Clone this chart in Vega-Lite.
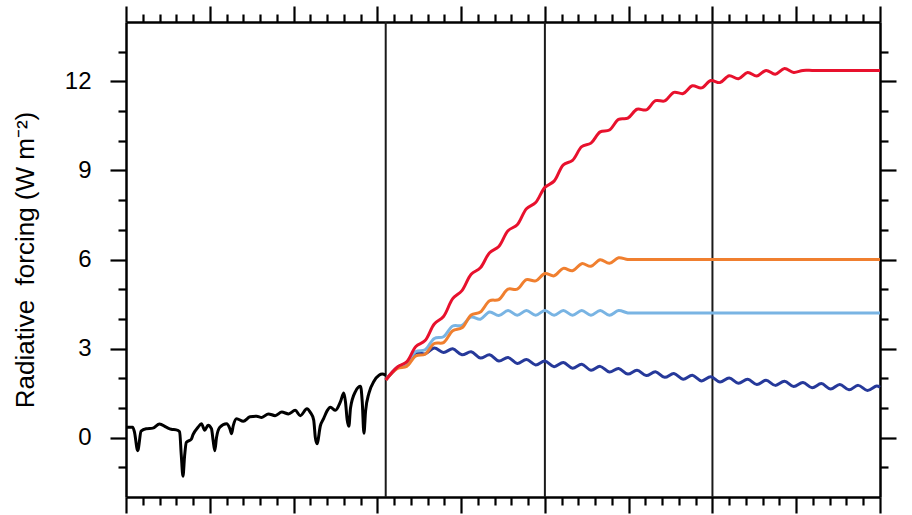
{
  "$schema": "https://vega.github.io/schema/vega-lite/v6.json",
  "width": 754,
  "height": 475,
  "autosize": "none",
  "padding": {"left": 126, "top": 22, "right": 32, "bottom": 18},
  "background": "white",
  "config": {
    "view": {"stroke": null},
    "axis": {"grid": false, "domainColor": "black", "domainWidth": 2.5, "tickColor": "black", "tickWidth": 2.2, "labelFont": "Liberation Sans", "titleFont": "Liberation Sans", "labelColor": "black", "titleColor": "black", "labelOverlap": false, "labelFlush": false}
  },
  "datasets": {
    "vl": [{"t": 2005}, {"t": 2100}, {"t": 2200}],
    "hist": [
      {"t": 1850, "v": 0.35}, {"t": 1854, "v": 0.35}, {"t": 1855, "v": 0.2}, {"t": 1857, "v": -0.44}, {"t": 1859, "v": 0.22},
      {"t": 1862, "v": 0.3}, {"t": 1866, "v": 0.32}, {"t": 1870, "v": 0.46}, {"t": 1874, "v": 0.35}, {"t": 1877, "v": 0.28},
      {"t": 1880, "v": 0.26}, {"t": 1882, "v": 0.2}, {"t": 1883, "v": -0.6}, {"t": 1884, "v": -1.3}, {"t": 1885, "v": -0.6},
      {"t": 1886, "v": -0.16}, {"t": 1889, "v": -0.05}, {"t": 1890, "v": 0.1}, {"t": 1893, "v": 0.35}, {"t": 1895, "v": 0.47},
      {"t": 1897, "v": 0.25}, {"t": 1899, "v": 0.42}, {"t": 1901, "v": 0.3}, {"t": 1902, "v": -0.1}, {"t": 1903, "v": -0.44},
      {"t": 1904, "v": 0.0}, {"t": 1906, "v": 0.35}, {"t": 1910, "v": 0.47}, {"t": 1912, "v": 0.3}, {"t": 1913, "v": 0.13},
      {"t": 1914, "v": 0.4}, {"t": 1916, "v": 0.64}, {"t": 1920, "v": 0.55}, {"t": 1924, "v": 0.7}, {"t": 1928, "v": 0.72},
      {"t": 1931, "v": 0.68}, {"t": 1935, "v": 0.8}, {"t": 1939, "v": 0.74}, {"t": 1943, "v": 0.86}, {"t": 1947, "v": 0.8},
      {"t": 1951, "v": 0.92}, {"t": 1954, "v": 0.74}, {"t": 1958, "v": 0.97}, {"t": 1960, "v": 0.85}, {"t": 1962, "v": 0.6},
      {"t": 1963, "v": 0.0}, {"t": 1964, "v": -0.21}, {"t": 1966, "v": 0.4}, {"t": 1968, "v": 0.65}, {"t": 1970, "v": 0.9},
      {"t": 1972, "v": 1.02}, {"t": 1975, "v": 0.92}, {"t": 1978, "v": 1.21}, {"t": 1980, "v": 1.5}, {"t": 1981, "v": 1.2},
      {"t": 1982, "v": 0.6}, {"t": 1983, "v": 0.38}, {"t": 1984, "v": 1.0}, {"t": 1987, "v": 1.56}, {"t": 1990, "v": 1.73},
      {"t": 1991, "v": 1.2}, {"t": 1992, "v": 0.15}, {"t": 1993, "v": 0.9}, {"t": 1995, "v": 1.5}, {"t": 1998, "v": 1.9},
      {"t": 2001, "v": 2.1}, {"t": 2003, "v": 2.14}, {"t": 2005, "v": 2.1}
    ],
    "rcp": [
      {"t": 2005, "r26": 1.94, "r45": 1.94, "r60": 1.94, "r85": 1.94},
      {"t": 2012, "r26": 2.36, "r45": 2.37, "r60": 2.33, "r85": 2.38},
      {"t": 2017.5, "r26": 2.52, "r45": 2.52, "r60": 2.40, "r85": 2.55},
      {"t": 2023, "r26": 2.86, "r45": 2.90, "r60": 2.75, "r85": 3.07},
      {"t": 2028.5, "r26": 2.82, "r45": 2.96, "r60": 2.81, "r85": 3.27},
      {"t": 2034, "r26": 3.02, "r45": 3.34, "r60": 3.17, "r85": 3.83},
      {"t": 2039.5, "r26": 2.87, "r45": 3.40, "r60": 3.20, "r85": 4.08},
      {"t": 2045, "r26": 2.99, "r45": 3.76, "r60": 3.60, "r85": 4.68},
      {"t": 2050.5, "r26": 2.79, "r45": 3.78, "r60": 3.70, "r85": 4.95},
      {"t": 2056, "r26": 2.89, "r45": 4.06, "r60": 4.13, "r85": 5.50},
      {"t": 2061.5, "r26": 2.68, "r45": 3.99, "r60": 4.23, "r85": 5.72},
      {"t": 2067, "r26": 2.79, "r45": 4.23, "r60": 4.61, "r85": 6.23},
      {"t": 2072.5, "r26": 2.58, "r45": 4.11, "r60": 4.65, "r85": 6.44},
      {"t": 2078, "r26": 2.70, "r45": 4.28, "r60": 5.00, "r85": 6.97},
      {"t": 2083.5, "r26": 2.50, "r45": 4.12, "r60": 5.00, "r85": 7.17},
      {"t": 2089, "r26": 2.63, "r45": 4.28, "r60": 5.32, "r85": 7.71},
      {"t": 2094.5, "r26": 2.45, "r45": 4.12, "r60": 5.28, "r85": 7.92},
      {"t": 2100, "r26": 2.58, "r45": 4.28, "r60": 5.53, "r85": 8.43},
      {"t": 2105.5, "r26": 2.39, "r45": 4.12, "r60": 5.45, "r85": 8.64},
      {"t": 2111, "r26": 2.53, "r45": 4.28, "r60": 5.70, "r85": 9.19},
      {"t": 2116.5, "r26": 2.34, "r45": 4.12, "r60": 5.62, "r85": 9.34},
      {"t": 2122, "r26": 2.47, "r45": 4.28, "r60": 5.86, "r85": 9.80},
      {"t": 2127.5, "r26": 2.27, "r45": 4.12, "r60": 5.77, "r85": 9.92},
      {"t": 2133, "r26": 2.40, "r45": 4.28, "r60": 5.99, "r85": 10.30},
      {"t": 2138.5, "r26": 2.21, "r45": 4.12, "r60": 5.87, "r85": 10.36},
      {"t": 2144, "r26": 2.33, "r45": 4.28, "r60": 6.06, "r85": 10.72},
      {"t": 2149.5, "r26": 2.14, "r45": 4.20, "r60": 6.00, "r85": 10.76},
      {"t": 2155, "r26": 2.27, "r45": 4.20, "r60": 6.00, "r85": 11.06},
      {"t": 2160.5, "r26": 2.09, "r45": 4.20, "r60": 6.00, "r85": 11.04},
      {"t": 2166, "r26": 2.22, "r85": 11.35},
      {"t": 2171.5, "r26": 2.03, "r85": 11.34},
      {"t": 2177, "r26": 2.16, "r85": 11.63},
      {"t": 2182.5, "r26": 1.97, "r85": 11.59},
      {"t": 2188, "r26": 2.10, "r85": 11.85},
      {"t": 2193.5, "r26": 1.91, "r85": 11.78},
      {"t": 2199, "r26": 2.05, "r85": 12.03},
      {"t": 2204.5, "r26": 1.87, "r85": 11.96},
      {"t": 2210, "r26": 2.01, "r85": 12.19},
      {"t": 2215.5, "r26": 1.83, "r85": 12.09},
      {"t": 2221, "r26": 1.97, "r85": 12.30},
      {"t": 2226.5, "r26": 1.79, "r85": 12.18},
      {"t": 2232, "r26": 1.93, "r85": 12.37},
      {"t": 2237.5, "r26": 1.76, "r85": 12.24},
      {"t": 2243, "r26": 1.90, "r85": 12.43},
      {"t": 2248.5, "r26": 1.72, "r85": 12.30},
      {"t": 2254, "r26": 1.86, "r85": 12.37},
      {"t": 2259.5, "r26": 1.68, "r85": 12.37},
      {"t": 2265, "r26": 1.82, "r85": 12.37},
      {"t": 2270.5, "r26": 1.64},
      {"t": 2276, "r26": 1.79},
      {"t": 2281.5, "r26": 1.61},
      {"t": 2287, "r26": 1.76},
      {"t": 2292.5, "r26": 1.59},
      {"t": 2298, "r26": 1.74},
      {"t": 2300, "r26": 1.70, "r45": 4.20, "r60": 6.00, "r85": 12.37}
    ]
  },
  "layer": [
    {
      "data": {"name": "vl"},
      "mark": {"type": "rule", "color": "#1a1a1a", "strokeWidth": 2},
      "encoding": {
        "x": {"field": "t", "type": "quantitative", "scale": {"domain": [1850, 2300], "nice": false, "zero": false}, "axis": null}
      }
    },
    {
      "data": {"name": "hist"},
      "mark": {"type": "line", "color": "black", "strokeWidth": 3, "interpolate": "monotone"},
      "encoding": {
        "x": {"field": "t", "type": "quantitative", "scale": {"domain": [1850, 2300], "nice": false, "zero": false},
          "axis": {"orient": "top", "labels": false, "title": null,
            "values": [1850,1860,1870,1880,1890,1900,1910,1920,1930,1940,1950,1960,1970,1980,1990,2000,2010,2020,2030,2040,2050,2060,2070,2080,2090,2100,2110,2120,2130,2140,2150,2160,2170,2180,2190,2200,2210,2220,2230,2240,2250,2260,2270,2280,2290,2300],
            "tickSize": {"condition": {"test": "datum.value % 50 === 0", "value": 16}, "value": 8}}},
        "y": {"field": "v", "type": "quantitative", "scale": {"domain": [-2, 14], "nice": false, "zero": false},
          "axis": {"orient": "right", "labels": false, "title": null,
            "values": [-1,0,1,2,3,4,5,6,7,8,9,10,11,12,13],
            "tickSize": {"condition": {"test": "datum.value % 3 === 0", "value": 16}, "value": 8}}}
      }
    },
    {
      "data": {"name": "rcp"},
      "transform": [
        {"fold": ["r26", "r45", "r60", "r85"], "as": ["s", "v"]},
        {"filter": "isValid(datum.v)"}
      ],
      "mark": {"type": "line", "strokeWidth": 3, "interpolate": "catmull-rom"},
      "encoding": {
        "x": {"field": "t", "type": "quantitative", "scale": {"domain": [1850, 2300], "nice": false, "zero": false},
          "axis": {"orient": "bottom", "labels": false, "title": null,
            "values": [1850,1860,1870,1880,1890,1900,1910,1920,1930,1940,1950,1960,1970,1980,1990,2000,2010,2020,2030,2040,2050,2060,2070,2080,2090,2100,2110,2120,2130,2140,2150,2160,2170,2180,2190,2200,2210,2220,2230,2240,2250,2260,2270,2280,2290,2300],
            "tickSize": {"condition": {"test": "datum.value % 50 === 0", "value": 16}, "value": 8}}},
        "y": {"field": "v", "type": "quantitative", "scale": {"domain": [-2, 14], "nice": false, "zero": false},
          "axis": {"orient": "left",
            "values": [-1,0,1,2,3,4,5,6,7,8,9,10,11,12,13],
            "labelExpr": "datum.value % 3 === 0 ? datum.label : ''",
            "labelFontSize": 24, "labelPadding": 19,
            "tickSize": {"condition": {"test": "datum.value % 3 === 0", "value": 16}, "value": 8},
            "title": "Radiative\u00a0 forcing (W m⁻²)",
            "titleFontSize": 26, "titleFontWeight": "normal",
            "titleX": -101, "titleY": 237.5, "titleAngle": -90, "titleAlign": "center", "titleBaseline": "middle"}},
        "color": {"field": "s", "type": "nominal", "legend": null,
          "scale": {"domain": ["r26", "r45", "r60", "r85"], "range": ["#26399a", "#79b4e3", "#f07f2f", "#e8112d"]}}
      }
    }
  ]
}
